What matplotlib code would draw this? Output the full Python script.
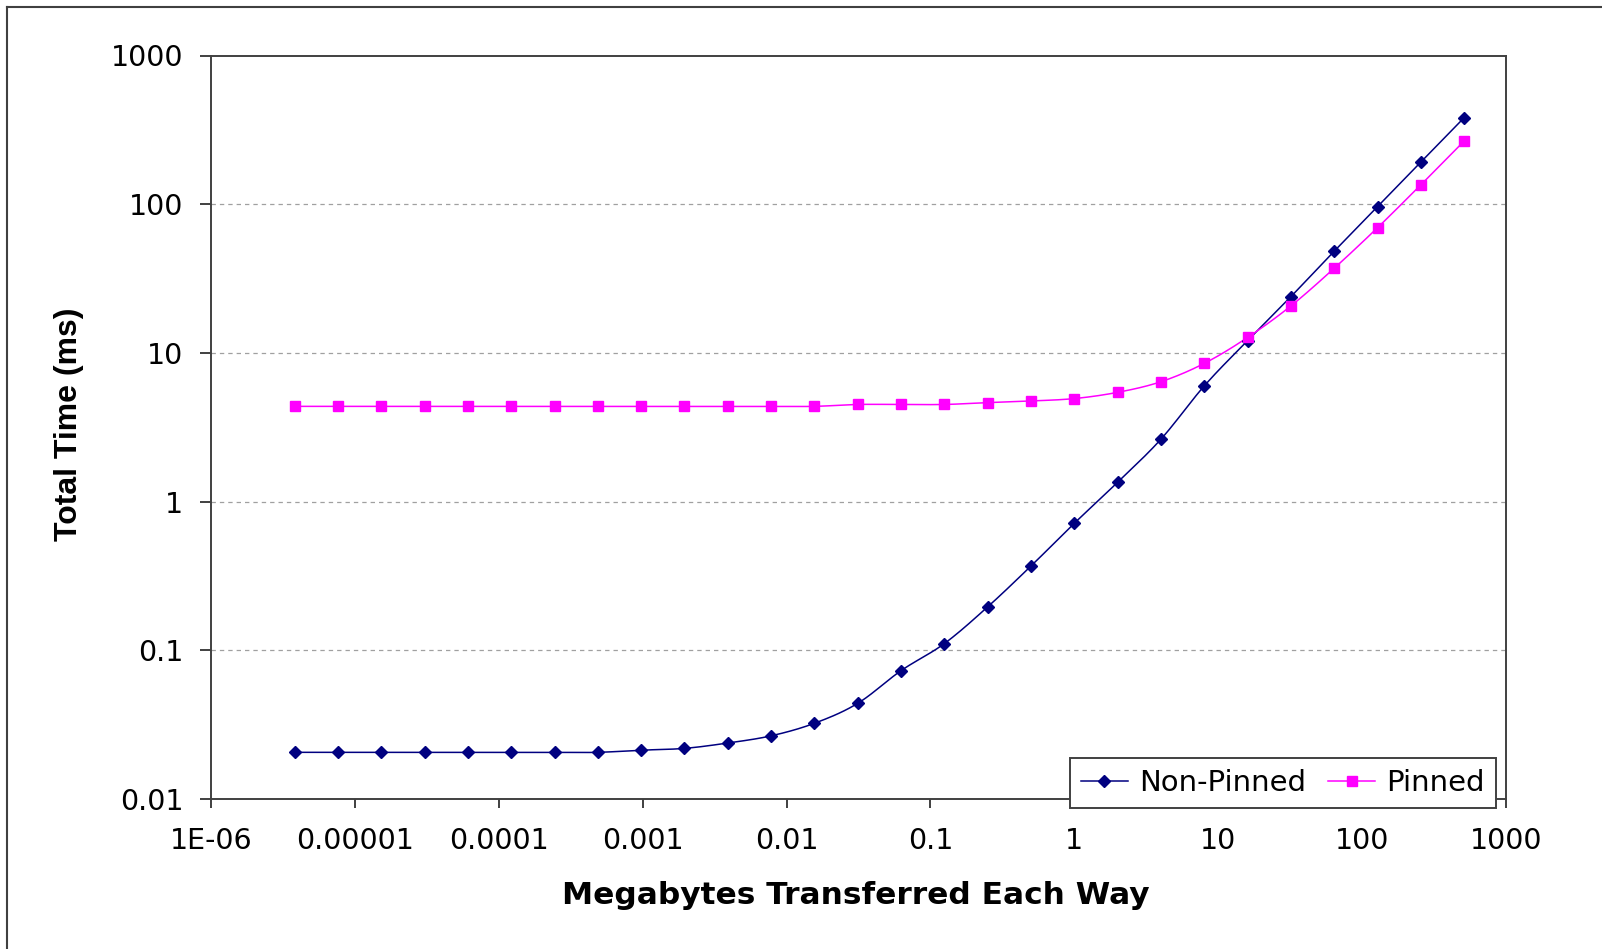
import numpy as np
import matplotlib
matplotlib.use("Agg")
import matplotlib.pyplot as plt
from matplotlib.lines import Line2D

# ---------------- data ----------------
megabytes = [3.814697265625e-06, 7.62939453125e-06, 1.52587890625e-05, 3.0517578125e-05,
             6.103515625e-05, 0.0001220703125, 0.000244140625, 0.00048828125,
             0.0009765625, 0.001953125, 0.00390625, 0.0078125, 0.015625, 0.03125,
             0.0625, 0.125, 0.25, 0.5, 1, 2, 4, 8, 16, 32, 64, 128, 256, 512]
non_pinned = [0.0206, 0.0206, 0.0206, 0.0206, 0.0206, 0.0206, 0.0206, 0.0206,
              0.0213, 0.0219, 0.0238, 0.0266, 0.0323, 0.0440, 0.0730, 0.111,
              0.196, 0.369, 0.715, 1.35, 2.63, 6.0, 12.1, 23.9, 48.3, 96.3, 192, 382]
pinned = [4.37, 4.37, 4.37, 4.37, 4.37, 4.37, 4.37, 4.37, 4.37, 4.37, 4.37, 4.37,
          4.37, 4.50, 4.50, 4.50, 4.63, 4.75, 4.93, 5.43, 6.40, 8.50, 12.7, 20.7,
          37.1, 69.5, 135, 266]
series_names = ["Non-Pinned", "Pinned"]
x_ticks = [1e-6, 1e-5, 1e-4, 1e-3, 1e-2, 1e-1, 1, 10, 100, 1000]
x_tick_labels = ["1E-06", "0.00001", "0.0001", "0.001", "0.01", "0.1", "1", "10", "100", "1000"]
y_ticks = [0.01, 0.1, 1, 10, 100, 1000]
y_tick_labels = ["0.01", "0.1", "1", "10", "100", "1000"]
x_title = "Megabytes Transferred Each Way"
y_title = "Total Time (ms)"


def smooth_loglog(x, y, n=16):
    """Excel-like smoothed line (Catmull-Rom Bezier) in log-log space."""
    lx = np.log10(np.asarray(x, float))
    ly = np.log10(np.asarray(y, float))
    P = np.column_stack([lx, ly])
    out = [P[0]]
    t = np.linspace(0, 1, n + 1)[1:]
    for i in range(len(P) - 1):
        p0 = P[i - 1] if i > 0 else P[i]
        p1 = P[i]
        p2 = P[i + 1]
        p3 = P[i + 2] if i + 2 < len(P) else P[i + 1]
        c1 = p1 + (p2 - p0) / 6.0
        c2 = p2 - (p3 - p1) / 6.0
        for tt in t:
            b = ((1 - tt) ** 3) * p1 + 3 * ((1 - tt) ** 2) * tt * c1 + 3 * (1 - tt) * tt ** 2 * c2 + tt ** 3 * p2
            out.append(b)
    out = np.array(out)
    return 10 ** out[:, 0], 10 ** out[:, 1]


W, H = 1602, 949
fig = plt.figure(figsize=(W / 100, H / 100), dpi=100)
fig.patch.set_facecolor("white")

ax_l, ax_r, ax_t, ax_b = 211, 1506, 55.5, 799
ax = fig.add_axes([ax_l / W, 1 - ax_b / H, (ax_r - ax_l) / W, (ax_b - ax_t) / H])
ax.set_xscale("log")
ax.set_yscale("log")
ax.set_xlim(1e-6, 1000)
ax.set_ylim(0.01, 1000)

navy = "#000080"
magenta = "#FF00FF"
d_ms, s_ms = 6.4, 7.6

sx, sy = smooth_loglog(megabytes, non_pinned)
ax.plot(sx, sy, color=navy, lw=1.1, zorder=3)
ax.plot(megabytes, non_pinned, linestyle="none", marker="D", ms=d_ms, color=navy,
        mec=navy, zorder=4)
sx2, sy2 = smooth_loglog(megabytes, pinned)
ax.plot(sx2, sy2, color=magenta, lw=1.1, zorder=3)
ax.plot(megabytes, pinned, linestyle="none", marker="s", ms=s_ms, color=magenta,
        mec=magenta, zorder=4)

# ticks
ax.set_xticks(x_ticks, x_tick_labels)
ax.set_yticks(y_ticks, y_tick_labels)
ax.minorticks_off()
ax.tick_params(axis="x", direction="out", length=6.5, width=1.4, color="#404040",
               pad=14, labelsize=20.5, labelcolor="black")
ax.tick_params(axis="y", direction="out", length=8, width=1.4, color="#404040",
               pad=12, labelsize=20.5, labelcolor="black")
for lab in ax.get_xticklabels() + ax.get_yticklabels():
    lab.set_fontfamily("DejaVu Sans")

for sp in ax.spines.values():
    sp.set_color("#404040")
    sp.set_linewidth(1.4)

# gridlines at major y ticks (not at the top edge)
for yv in y_ticks[1:-1]:
    ax.axhline(yv, color="#a0a0a0", lw=0.9, linestyle=(0, (3.5, 3.2)), zorder=1)

# axis titles
fig.text(855.7 / W, 1 - 895.5 / H, x_title, ha="center", va="center",
         fontsize=22.5, fontweight="bold", family="DejaVu Sans")
fig.text(69.5 / W, 1 - 424 / H, y_title, ha="center", va="center", rotation=90,
         fontsize=23, fontweight="bold", family="Liberation Sans")

# legend
handles = [Line2D([], [], color=navy, lw=1.1, marker="D", ms=d_ms, mec=navy),
           Line2D([], [], color=magenta, lw=1.1, marker="s", ms=s_ms, mec=magenta)]
leg = fig.legend(handles, series_names, loc="upper left",
                 bbox_to_anchor=(1070 / W, 1 - 758 / H), ncol=2,
                 prop={"family": "DejaVu Sans", "size": 21},
                 frameon=True, fancybox=False, shadow=False, framealpha=1,
                 edgecolor="#404040", handlelength=1.6, handletextpad=0.4,
                 columnspacing=0.75, borderpad=0.38, borderaxespad=0)
leg.get_frame().set_linewidth(1.4)

# outer chart border (top and left visible)
fig.add_artist(Line2D([7 / W, 1.0], [1 - 7 / H, 1 - 7 / H], color="#404040", lw=1.5,
                      transform=fig.transFigure))
fig.add_artist(Line2D([7 / W, 7 / W], [1 - 7 / H, 0.0], color="#404040", lw=1.5,
                      transform=fig.transFigure))

fig.savefig("out.png", dpi=100, facecolor="white")
